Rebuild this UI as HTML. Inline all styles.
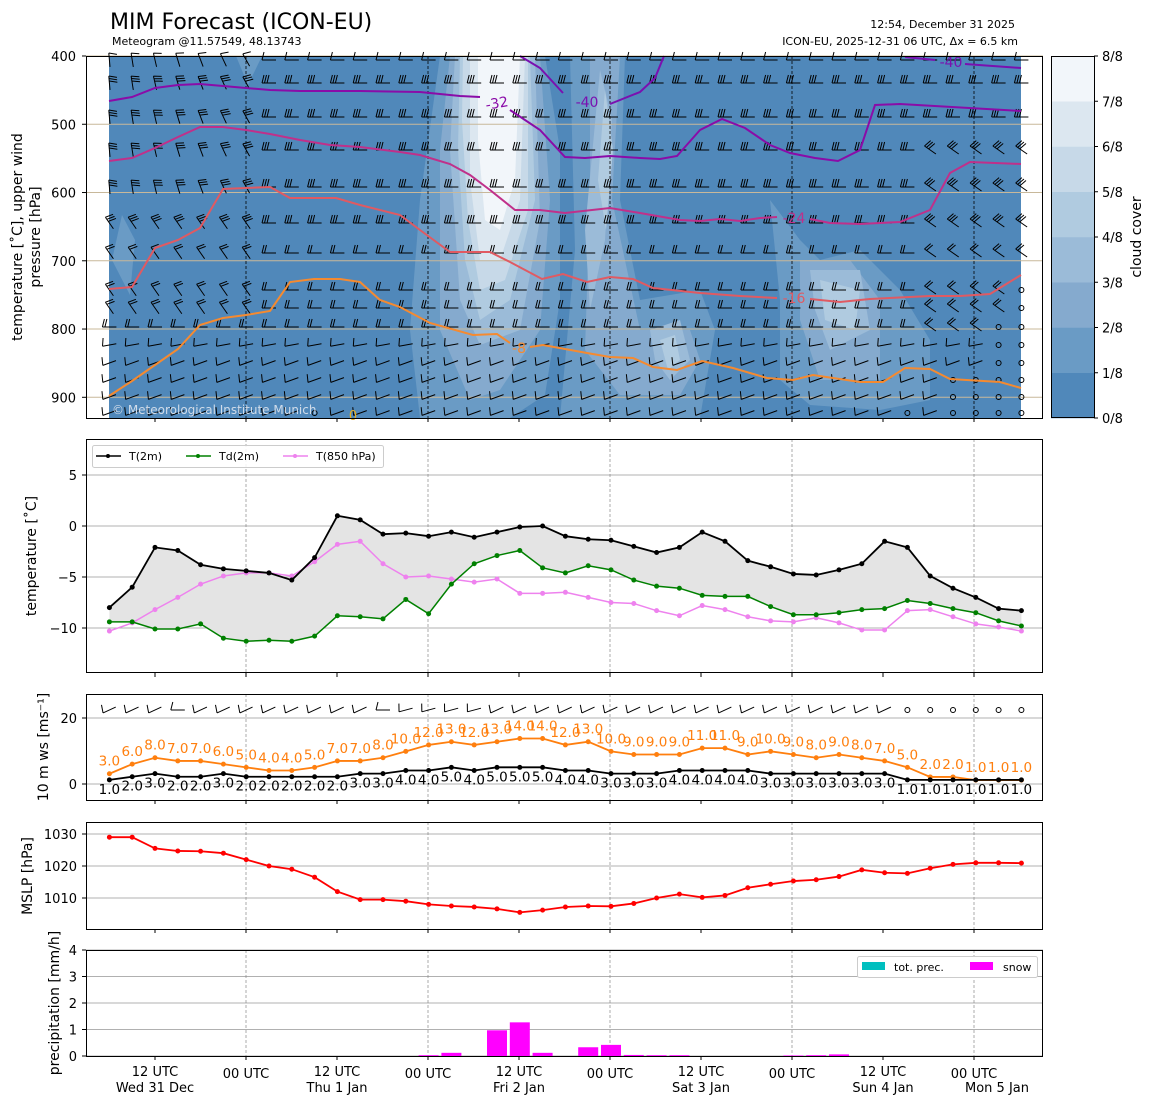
<!DOCTYPE html>
<html><head><meta charset="utf-8"><style>
body{margin:0;background:#fff}
svg{display:block;font-family:"DejaVu Sans","Liberation Sans",sans-serif}
</style></head><body>
<svg id="s" width="1155" height="1105" viewBox="0 0 1155 1105" xmlns="http://www.w3.org/2000/svg"></svg>
<script>
const S=document.getElementById('s');let h='';
const X=i=>109.4+22.8*i;
const C=['#5088ba','#6a9bc5','#85aace','#9bbbd8','#b0cbe0','#c7d9e8','#dce7f0','#f2f6fa'];
function t(x,y,s,sz,anch,fill,extra){h+=`<text x="${x}" y="${y}" font-size="${sz||13}" text-anchor="${anch||'middle'}" fill="${fill||'#000'}" ${extra||''}>${s}</text>`;}
function pl(pts,col,w,extra){h+=`<polyline points="${pts.map(p=>p.join(',')).join(' ')}" fill="none" stroke="${col}" stroke-width="${w||1.5}" ${extra||''}/>`;}
function pg(pts,col){h+=`<polygon points="${pts.map(p=>p.join(',')).join(' ')}" fill="${col}"/>`;}
t(110,29,'MIM Forecast (ICON-EU)',22,'start');
t(112,45,'Meteogram @11.57549, 48.13743',11,'start');
t(1015,28,'12:54, December 31 2025',11,'end');
t(1018,45,'ICON-EU, 2025-12-31 06 UTC, Δx = 6.5 km',11,'end');
// ===== Panel 1
h+=`<rect x="109" y="56" width="912" height="362" fill="${C[0]}"/>`;
const L=[
[[[440,56],[545,56],[560,150],[560,300],[545,395],[510,418],[420,418],[410,330],[420,200]],
 [[570,56],[625,56],[620,200],[640,300],[700,290],[715,330],[700,418],[560,418],[575,250]],
 [[770,200],[800,240],[820,260],[860,250],[900,290],[930,340],[930,400],[880,410],[810,405],[780,380],[780,300]],
 [[122,215],[135,240],[130,295],[112,260]],[[236,56],[262,56],[248,85]]],
[[[450,56],[540,56],[550,200],[540,330],[500,390],[470,400],[440,330],[440,150]],
 [[590,56],[620,56],[612,200],[640,330],[690,330],[700,360],[680,395],[620,395],[585,350],[590,200]],
 [[800,260],[850,260],[880,300],[880,380],[820,380],[800,320]]],
[[[455,56],[535,56],[540,220],[520,330],[480,345],[460,300],[450,150]],
 [[600,70],[612,120],[605,240],[590,310],[585,230]],[[650,330],[680,320],[690,360],[670,380],[655,360]],
 [[810,270],[860,270],[870,330],[830,350],[815,310]]],
[[[460,56],[530,56],[535,200],[510,300],[480,320],[465,260],[458,150]],
 [[605,90],[613,150],[606,230],[598,180]],[[660,340],[675,335],[680,360],[668,370]],
 [[820,280],[860,290],[855,330],[825,320]]],
[[[463,56],[528,56],[528,210],[505,280],[480,290],[468,220],[462,120]]],
[[[470,56],[525,56],[520,200],[500,260],[480,260],[470,180]]],
[[[478,56],[520,56],[515,180],[500,230],[485,220],[478,140]]]];
L.forEach((ls,k)=>ls.forEach(p=>pg(p,C[k+1])));
[400,500,600,700,800,900].forEach((p,k)=>{const y=56+(p-400)*0.6826;h+=`<line x1="86" x2="1043" y1="${y}" y2="${y}" stroke="#c8b89a" stroke-width="1"/>`;t(76,y+5,p,13,'end');h+=`<line x1="82" x2="86" y1="${y}" y2="${y}" stroke="#000"/>`;});
[246,428,610,792,974].forEach(x=>h+=`<line x1="${x}" x2="${x}" y1="56" y2="418" stroke="#000" stroke-width="0.8" stroke-dasharray="3,2"/>`);
const rows=[60,83,117,150,187,223,253,290,308,327,345,363,380,397,413];
function barb(x,y,a,n){const r=a*Math.PI/180,dx=Math.cos(r),dy=Math.sin(r),px=-dy,py=dx;
 const hx=x+dx*7,hy=y+dy*7,tx=x-dx*7,ty=y-dy*7;let s=`M${tx},${ty}L${hx},${hy}`;
 for(let k=0;k<n;k++){const bx=hx-dx*2.5*k,by=hy-dy*2.5*k;s+=`M${bx},${by}L${bx+px*8-dx*2},${by+py*8-dy*2}`;}
 h+=`<path d="${s}" stroke="#000" stroke-width="1" fill="none"/>`;}
const calm=(i,r)=>(i==40&&r>=7)||(i==39&&r>=9)||(i>=37&&r>=12)||(i==35&&r==14)||(i==9&&r==14);
for(let r=0;r<rows.length;r++)for(let i=0;i<41;i++){const x=X(i),y=rows[r];
 if(calm(i,r)){h+=`<circle cx="${x}" cy="${y}" r="2.5" fill="none" stroke="#000" stroke-width="1"/>`;continue;}
 let a=180,n=r<6?3:(r<10?2:1);
 if(i<7&&r<5)a=265-i*4;else if(i<7&&r<9)a=235;else if(r>=11)a=160;else if(r>=10)a=170;
 if(i>=36&&r>=3&&r<10)a=215;
 if(r==0)n=1;
 barb(x,y,a,n);}
pl([[109,101],[132,97],[155,88],[178,85],[200,84],[223,86],[246,88],[270,90],[300,91],[360,91],[420,92],[460,96],[480,97]],'#8a0ca8',2);
pl([[510,110],[540,130],[565,157],[585,158],[610,156],[640,158],[660,159],[677,156],[700,130],[722,119],[745,128],[770,145],[790,153],[815,158],[838,161],[860,150],[875,105],[900,104],[1021,111]],'#8a0ca8',2);
pl([[520,56],[540,68],[563,93]],'#7a10b0',2);pl([[610,104],[640,92],[655,78],[664,56]],'#7a10b0',2);
pl([[905,57],[935,60]],'#7a10b0',2);pl([[965,64],[1021,68]],'#7a10b0',2);
t(497,108,'-32',14,'middle','#8a0ca8','transform="rotate(-10 497 104)"');t(587,107,'-40',14,'middle','#7a10b0');t(951,67,'-40',14,'middle','#7a10b0');
pl([[109,161],[132,158],[155,148],[178,137],[200,127],[223,127],[246,130],[270,134],[300,140],[330,145],[360,147],[400,152],[420,155],[450,164],[470,175],[490,190],[515,210],[540,210],[565,213],[610,208],[640,213],[680,220],[700,221],[720,219],[740,221],[760,218],[777,217]],'#c0308a',2);
pl([[810,219],[830,223],[860,224],[900,222],[930,210],[950,173],[970,162],[1021,164]],'#c0308a',2);t(794,223,'-24',14,'middle','#c0308a');
pl([[109,289],[132,287],[155,248],[178,240],[200,228],[223,189],[246,188],[270,187],[290,198],[336,198],[360,205],[400,215],[420,230],[450,252],[490,252],[510,262],[542,279],[563,274],[587,282],[610,277],[633,279],[653,288],[700,293],[740,296],[777,298]],'#e05a62',2);
pl([[810,299],[840,302],[870,299],[930,296],[960,296],[990,294],[1021,275]],'#e05a62',2);t(794,303,'-16',14,'middle','#e05a62');
pl([[109,396],[132,381],[155,365],[178,349],[200,325],[223,318],[246,315],[270,311],[290,282],[314,279],[340,279],[360,282],[380,300],[400,307],[430,323],[473,335],[497,334],[510,343]],'#f58a30',2);
pl([[530,347],[543,345],[587,353],[610,357],[633,358],[653,367],[677,370],[702,361],[733,368],[767,378],[793,380],[813,375],[860,382],[883,382],[905,368],[930,369],[950,379],[1000,382],[1021,388]],'#f58a30',2);
t(519,353,'-8',14,'middle','#f58a30');t(353,420,'0',13,'middle','#e8b020');
t(112,414,'© Meteorological Institute Munich',12,'start','#d0dcea');
h+=`<rect x="86.5" y="56.5" width="956" height="362" fill="none" stroke="#000"/>`;
t(22,237,'temperature [˚C], upper wind',14,'middle','#000','transform="rotate(-90 22 237)"');
t(40,237,'pressure [hPa]',14,'middle','#000','transform="rotate(-90 40 237)"');
for(let k=0;k<8;k++){const y=418-45.25*(k+1);h+=`<rect x="1051" y="${y}" width="43" height="45.5" fill="${C[k]}"/>`;}
h+=`<rect x="1051.5" y="56.5" width="43" height="361" fill="none" stroke="#000"/>`;
for(let k=0;k<=8;k++){const y=418-45.25*k;h+=`<line x1="1094" x2="1098" y1="${y}" y2="${y}" stroke="#000"/>`;t(1102,y+5,k+'/8',13,'start');}
t(1141,237,'cloud cover',14,'middle','#000','transform="rotate(-90 1141 237)"');
const TX=[155,246,337,428,519,610,701,792,883,974];
function frame(y0,y1,vdash){TX.forEach(x=>{h+=`<line x1="${x}" x2="${x}" y1="${y1}" y2="${y1+4}" stroke="#000"/>`;});
 if(vdash)[246,428,610,792,974].forEach(x=>h+=`<line x1="${x}" x2="${x}" y1="${y0}" y2="${y1}" stroke="#888" stroke-width="0.7" stroke-dasharray="3,2"/>`);}
frame(56,418,false);
function ytick(y,lab){h+=`<line x1="86" x2="1043" y1="${y}" y2="${y}" stroke="#b0b0b0"/><line x1="82" x2="86" y1="${y}" y2="${y}" stroke="#000"/>`;t(77,y+5,lab,13,'end');}
// ===== Panel 2
const Y2=v=>526-10.2*v;
[5,0,-5,-10].forEach(v=>ytick(Y2(v),v==0?'0':(v<0?'−'+(-v):v)));
frame(439,673,true);
const T=[-8,-6,-2.1,-2.4,-3.8,-4.2,-4.4,-4.6,-5.3,-3.1,1.0,0.6,-0.8,-0.7,-1.0,-0.6,-1.1,-0.6,-0.1,0.0,-1.0,-1.3,-1.4,-2.0,-2.6,-2.1,-0.6,-1.5,-3.4,-4.0,-4.7,-4.8,-4.3,-3.7,-1.5,-2.1,-4.9,-6.1,-7.0,-8.1,-8.3];
const TD=[-9.4,-9.4,-10.1,-10.1,-9.6,-11.0,-11.3,-11.2,-11.3,-10.8,-8.8,-8.9,-9.1,-7.2,-8.6,-5.7,-3.7,-2.9,-2.4,-4.1,-4.6,-3.9,-4.3,-5.3,-5.9,-6.1,-6.8,-6.9,-6.9,-7.9,-8.7,-8.7,-8.5,-8.2,-8.1,-7.3,-7.6,-8.1,-8.5,-9.3,-9.8];
const T8=[-10.3,-9.5,-8.2,-7.0,-5.7,-4.9,-4.6,-4.6,-4.9,-3.5,-1.8,-1.5,-3.7,-5.0,-4.9,-5.2,-5.5,-5.2,-6.6,-6.6,-6.5,-7.0,-7.5,-7.6,-8.3,-8.8,-7.8,-8.2,-8.9,-9.3,-9.4,-9.0,-9.5,-10.2,-10.2,-8.3,-8.2,-8.9,-9.6,-9.9,-10.3];
pg(T.map((v,i)=>[X(i),Y2(v)]).concat(TD.map((v,i)=>[X(i),Y2(v)]).reverse()),'#e4e4e4');
h+=`<polyline points="${T.map((v,i)=>X(i)+','+Y2(v)).join(' ')}" fill="none" stroke="#777" stroke-width="0.6"/>`;
function series(arr,f,col,w,r){pl(arr.map((v,i)=>[X(i),f(v)]),col,w);arr.forEach((v,i)=>h+=`<circle cx="${X(i)}" cy="${f(v)}" r="${r||2.5}" fill="${col}"/>`);}
series(T8,Y2,'#ee82ee',1.5);series(TD,Y2,'#008000',1.5);series(T,Y2,'#000',1.8);
h+=`<rect x="92.5" y="445.5" width="291" height="22" rx="2" fill="#fff" fill-opacity="0.85" stroke="#ccc"/>`;
[[96,'#000','T(2m)'],[186,'#008000','Td(2m)'],[283,'#ee82ee','T(850 hPa)']].forEach(([x,c,s])=>{h+=`<line x1="${x}" x2="${x+25}" y1="456" y2="456" stroke="${c}" stroke-width="1.5"/><circle cx="${x+12}" cy="456" r="2" fill="${c}"/>`;t(x+33,460,s,11,'start');});
h+=`<rect x="86.5" y="439.5" width="956" height="233" fill="none" stroke="#000"/>`;
t(36,556,'temperature [˚C]',14,'middle','#000','transform="rotate(-90 36 556)"');
// ===== Panel 3
const Y3=v=>784-3.3*v;
ytick(Y3(20),'20');ytick(Y3(0),'0');frame(694,800,true);
const G=[3,6,8,7,7,6,5,4,4,5,7,7,8,10,12,13,12,13,14,14,12,13,10,9,9,9,11,11,9,10,9,8,9,8,7,5,2,2,1,1,1];
const W=[1,2,3,2,2,3,2,2,2,2,2,3,3,4,4,5,4,5,5,5,4,4,3,3,3,4,4,4,4,3,3,3,3,3,3,1,1,1,1,1,1];
const Gv=G.map(v=>v*0.97+0.2),Wv=W.map(v=>v*0.95+0.3);
series(Gv,Y3,'#ff7f0e',1.8);series(Wv,Y3,'#000',1.8);
Gv.forEach((v,i)=>t(X(i),Y3(v)-8,G[i].toFixed(1),13.5,'middle','#ff7f0e'));
Wv.forEach((v,i)=>t(X(i),Y3(v)+14,W[i].toFixed(1),13.5,'middle','#000'));
for(let i=0;i<41;i++){const x=X(i),y=710;if(i>=35){h+=`<circle cx="${x}" cy="${y}" r="2.5" fill="none" stroke="#000"/>`;continue;}
 let a=(i==3||i==12)?180:(i>=13&&i<17?165:155); barb(x,y,a,1);}
h+=`<rect x="86.5" y="694.5" width="956" height="106" fill="none" stroke="#000"/>`;
t(48,747,'10 m ws [ms⁻¹]',14,'middle','#000','transform="rotate(-90 48 747)"');
// ===== Panel 4
const Y4=v=>866-3.2*(v-1020);
[1030,1020,1010].forEach(v=>ytick(Y4(v),v));frame(822,929,true);
const P=[1029,1029,1025.5,1024.7,1024.6,1024,1022,1020,1019,1016.5,1012,1009.5,1009.5,1009,1008,1007.5,1007.2,1006.6,1005.5,1006.2,1007.2,1007.5,1007.4,1008.3,1010,1011.2,1010.2,1010.8,1013.2,1014.3,1015.3,1015.7,1016.7,1018.8,1017.9,1017.7,1019.3,1020.5,1021,1021,1020.9];
series(P,Y4,'#ff0000',1.8);
h+=`<rect x="86.5" y="822.5" width="956" height="107" fill="none" stroke="#000"/>`;
t(32,876,'MSLP [hPa]',14,'middle','#000','transform="rotate(-90 32 876)"');
// ===== Panel 5
const Y5=v=>1056-26.5*v;
[0,1,2,3,4].forEach(v=>ytick(Y5(v),v));frame(950,1056,true);
const PR={14:0.03,15:0.12,17:0.97,18:1.27,19:0.12,21:0.33,22:0.42,23:0.04,24:0.03,25:0.03,30:0.02,31:0.03,32:0.06};
for(const k in PR){const v=PR[k];h+=`<rect x="${X(+k)-10}" y="${Y5(v)}" width="20" height="${26.5*v}" fill="#ff00ff"/>`;}
h+=`<rect x="857.5" y="956.5" width="180" height="21" rx="2" fill="#fff" stroke="#ccc"/>`;
h+=`<rect x="862" y="962" width="23" height="8" fill="#00bfbf"/>`;t(894,971,'tot. prec.',11,'start');
h+=`<rect x="970" y="962" width="23" height="8" fill="#ff00ff"/>`;t(1003,971,'snow',11,'start');
h+=`<rect x="86.5" y="950.5" width="956" height="106" fill="none" stroke="#000"/>`;
t(59,1003,'precipitation [mm/h]',14,'middle','#000','transform="rotate(-90 59 1003)"');
const D=['Wed 31 Dec','Thu 1 Jan','Fri 2 Jan','Sat 3 Jan','Sun 4 Jan'];
TX.forEach((x,k)=>{if(k%2==0){t(x,1076,'12 UTC',13);t(x,1092,D[k/2],13);}else t(x,1078,'00 UTC',13);});
t(997,1092,'Mon 5 Jan',13);
S.innerHTML=h;
</script>
</body></html>
